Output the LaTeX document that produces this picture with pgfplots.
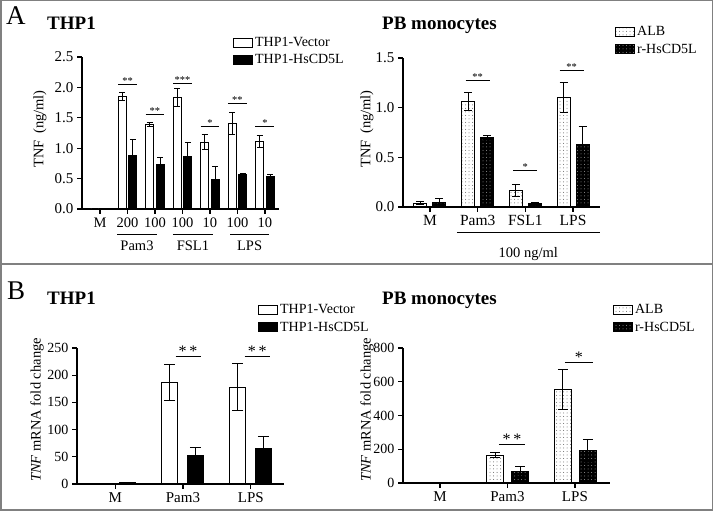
\documentclass[border=0pt]{standalone}
\usepackage{fontspec}
\setmainfont{Liberation Serif}
\usepackage{pgfplots}
\usepackage{pgfplotstable}
\pgfplotsset{compat=1.18}
\usetikzlibrary{patterns.meta,calc}
\newcommand\fs[1]{\fontsize{#1}{#1}\selectfont}

\pgfplotstableread{
x v ve h he
0 0 0 0 0
1 1.85 0.06 0.88 0.27
2 1.39 0.04 0.74 0.11
3 1.84 0.15 0.86 0.24
4 1.10 0.12 0.49 0.21
5 1.41 0.18 0.57 0.01
6 1.11 0.10 0.53 0.04
}\thpA
\pgfplotstableread{
x v ve h he
0 0.04 0.015 0.05 0.04
1 1.06 0.09 0.70 0.02
2 0.17 0.06 0.04 0.01
3 1.10 0.15 0.63 0.18
}\pbA
\pgfplotstableread{
x v ve h he
0 1 0.3 2 0.5
1 186 33 52 15
2 178 43 65 22
}\thpB
\pgfplotstableread{
x v ve h he
0 2 1 3 1
1 165 15 68 30
2 553 118 192 67
}\pbB

\pgfplotsset{
 prism/.style={
  scale only axis, clip=false, ybar, anchor=south west,
  axis x line*=bottom, axis y line*=left,
  axis line style={line width=1.2pt,-},
  every outer x axis line/.append style={-},
  every outer y axis line/.append style={-},
  tick style={black, line width=1.2pt},
  tick align=outside, major tick length=5pt,
  ymin=0,
  /pgf/number format/assume math mode=true,
  yticklabel style={font=\fs{15}},
  legend style={draw=none, fill=none, font=\fs{14}, anchor=north west, inner sep=0pt, row sep=2.5pt},
  legend cell align=left,
  error bars/y dir=both, error bars/y explicit,
  error bars/error bar style={line width=1pt, black},
 },
 cap/.style={error bars/error mark options={rotate=90, mark size=#1, line width=1pt, black}},
 legbox/.style={legend image code/.code={\draw[##1, line width=1pt] (0pt,-4.5pt) rectangle (19pt,4.5pt);}},
 whitebar/.style={draw=black, fill=white, line width=1pt},
 blackbar/.style={draw=black, fill=black, line width=1pt},
 albbar/.style={draw=black, fill=white, line width=1pt, postaction={pattern={Dots[distance=3.5pt,radius=0.5pt]}, pattern color=black!60}},
 hsbar/.style={draw=black, fill=black, line width=1pt, postaction={pattern={Dots[distance=3.5pt,radius=0.5pt]}, pattern color=black!40}},
}

% significance bar: [font]{x1}{x2}{y}{stars}
\newcommand\sig[5][\fs{10.5}]{%
 \draw[line width=1pt] (axis cs:#2,#4) -- (axis cs:#3,#4);
 \node[anchor=base, inner sep=0pt, font=#1] at ($(axis cs:#2,#4)!0.5!(axis cs:#3,#4)$) {#5};}
% group underline: {x1}{x2}{label}{line shift}{label shift}
\newcommand\grp[5]{%
 \draw[line width=1pt] ([yshift=-#4]axis cs:#1,0) -- ([yshift=-#4]axis cs:#2,0);
 \node[anchor=base, inner sep=0pt, font=\fs{14.5}] at ($([yshift=-#5]axis cs:#1,0)!0.5!([yshift=-#5]axis cs:#2,0)$) {#3};}

\begin{document}
\begin{tikzpicture}
\useasboundingbox (0pt,0pt) rectangle (713pt,511pt);
\draw[black!50, line width=1.5pt] (0.75pt,0.75pt) rectangle (712.25pt,510.25pt);
\draw[black!50, line width=1.5pt] (0pt,247pt) -- (713pt,247pt);

% ---------- A left ----------
\begin{axis}[prism, at={(82pt,302pt)}, width=197pt, height=152pt,
  xmin=-0.655, xmax=6.51, ymax=2.5, ytick={0,0.5,1,1.5,2,2.5},
  yticklabel style={/pgf/number format/fixed, /pgf/number format/fixed zerofill, /pgf/number format/precision=1},
  xtick={0,1,2,3,4,5,6}, xticklabels={M,200,100,100,10,100,10},
  xticklabel style={font=\fs{14.5}},
  bar width=8pt, cap=3pt,
  legend style={at={(0.766,1.145)}}]
\addlegendimage{legbox, whitebar}\addlegendentry{THP1-Vector}
\addlegendimage{legbox, blackbar}\addlegendentry{THP1-HsCD5L}
\addplot[whitebar, bar shift=-5.3pt, forget plot] table[x=x, y=v, y error=ve]{\thpA};
\addplot[blackbar, bar shift=5.3pt, forget plot] table[x=x, y=h, y error=he]{\thpA};
\sig{0.655}{1.345}{2.05}{**}
\sig{1.655}{2.345}{1.56}{**}
\sig{2.655}{3.345}{2.07}{***}
\sig{3.655}{4.345}{1.36}{*}
\sig{4.655}{5.345}{1.73}{**}
\sig{5.655}{6.345}{1.35}{*}
\grp{0.62}{2.07}{Pam3}{26pt}{42pt}
\grp{2.65}{4.11}{FSL1}{26pt}{42pt}
\grp{4.73}{6.15}{LPS}{26pt}{42pt}
\end{axis}

% ---------- A right ----------
\begin{axis}[prism, at={(403pt,304pt)}, width=197pt, height=149pt,
  xmin=-0.566, xmax=3.566, ymax=1.5, ytick={0,0.5,1,1.5},
  yticklabel style={/pgf/number format/fixed, /pgf/number format/fixed zerofill, /pgf/number format/precision=1},
  xtick={0,1,2,3}, xticklabels={M,Pam3,FSL1,LPS},
  xticklabel style={font=\fs{15.5}},
  bar width=13pt, cap=4pt,
  legend style={at={(1.076,1.225)}}]
\addlegendimage{legbox, albbar}\addlegendentry{ALB}
\addlegendimage{legbox, hsbar}\addlegendentry{r-HsCD5L}
\addplot[albbar, bar shift=-9.5pt, forget plot] table[x=x, y=v, y error=ve]{\pbA};
\addplot[hsbar, bar shift=9.5pt, forget plot] table[x=x, y=h, y error=he]{\pbA};
\sig{0.75}{1.25}{1.275}{**}
\sig{1.75}{2.25}{0.37}{*}
\sig{2.72}{3.22}{1.376}{**}
\grp{0.566}{3.56}{100 ng/ml}{26pt}{51pt}
\end{axis}

% ---------- B left ----------
\begin{axis}[prism, at={(77pt,27pt)}, width=207pt, height=136pt,
  xmin=-0.563, xmax=2.49, ymax=250, ytick={0,50,100,150,200,250},
  yticklabel style={font=\fs{14}},
  xtick={0,1,2}, xticklabels={M,Pam3,LPS},
  xticklabel style={font=\fs{15}},
  bar width=16pt, cap=5.5pt,
  legend style={at={(0.874,1.335)}}]
\addlegendimage{legbox, whitebar}\addlegendentry{THP1-Vector}
\addlegendimage{legbox, blackbar}\addlegendentry{THP1-HsCD5L}
\addplot[whitebar, bar shift=-13pt, forget plot] table[x=x, y=v, y error=ve]{\thpB};
\addplot[blackbar, bar shift=12.5pt, forget plot] table[x=x, y=h, y error=he]{\thpB};
\sig[\fs{16}]{0.89}{1.26}{235}{*\,*}
\sig[\fs{16}]{1.91}{2.28}{235}{*\,*}
\end{axis}

% ---------- B right ----------
\begin{axis}[prism, at={(403pt,28pt)}, width=207pt, height=135pt,
  xmin=-0.548, xmax=2.52, ymax=800, ytick={0,200,400,600,800},
  yticklabel style={font=\fs{14}},
  xtick={0,1,2}, xticklabels={M,Pam3,LPS},
  xticklabel style={font=\fs{15}},
  bar width=17pt, cap=5pt,
  legend style={at={(1.014,1.338)}}]
\addlegendimage{legbox, albbar}\addlegendentry{ALB}
\addlegendimage{legbox, hsbar}\addlegendentry{r-HsCD5L}
\addplot[albbar, bar shift=-12pt, forget plot] table[x=x, y=v, y error=ve]{\pbB};
\addplot[hsbar, bar shift=13pt, forget plot] table[x=x, y=h, y error=he]{\pbB};
\sig[\fs{16}]{0.874}{1.26}{229}{*\,*}
\sig[\fs{16}]{1.85}{2.27}{717}{*}
\end{axis}

% ---------- titles and labels ----------
\node[anchor=base west, inner sep=0pt, font=\fs{27}] at (6pt,486pt) {A};
\node[anchor=base west, inner sep=0pt, font=\fs{19}\bfseries] at (47pt,481pt) {THP1};
\node[anchor=base west, inner sep=0pt, font=\fs{19}\bfseries] at (382pt,481pt) {PB monocytes};
\node[anchor=base west, inner sep=0pt, font=\fs{27}] at (7pt,211pt) {B};
\node[anchor=base west, inner sep=0pt, font=\fs{19}\bfseries] at (47pt,206pt) {THP1};
\node[anchor=base west, inner sep=0pt, font=\fs{19}\bfseries] at (382pt,206pt) {PB monocytes};
\node[rotate=90, font=\fs{14.5}] at (40pt,382pt) {TNF\hspace{0.45em}(ng/ml)};
\node[rotate=90, font=\fs{14.5}] at (367pt,382pt) {TNF\hspace{0.45em}(ng/ml)};
\node[rotate=90, font=\fs{14.5}] at (37pt,101pt) {\textit{TNF} mRNA fold change};
\node[rotate=90, font=\fs{14.5}] at (367pt,101pt) {\textit{TNF} mRNA fold change};
\end{tikzpicture}
\end{document}
